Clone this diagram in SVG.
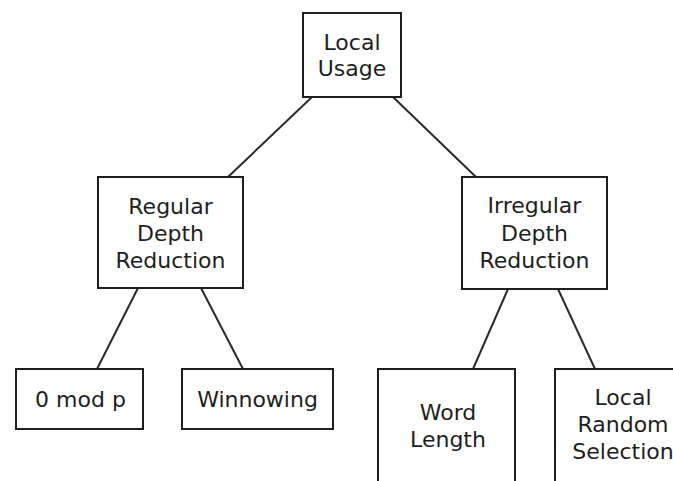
<svg xmlns="http://www.w3.org/2000/svg" width="673" height="481" viewBox="0 0 673 481">
  <style>
    .box { fill: #ffffff; stroke: #1e1e1e; stroke-width: 2; }
    .edge { stroke: #2a2a2a; stroke-width: 2; fill: none; }
    .label { font-family: "DejaVu Sans", Verdana, sans-serif; font-size: 22px; fill: #1e1e1e; text-anchor: middle; }
  </style>
  <rect width="673" height="481" fill="#ffffff"/>

  <!-- tree edges -->
  <g id="connectors">
    <line class="edge" x1="312" y1="97" x2="228" y2="177"/>
    <line class="edge" x1="393" y1="97" x2="476" y2="177"/>
    <line class="edge" x1="138" y1="288" x2="97" y2="369"/>
    <line class="edge" x1="201" y1="288" x2="243" y2="369"/>
    <line class="edge" x1="508" y1="289" x2="473" y2="369"/>
    <line class="edge" x1="558" y1="289" x2="595" y2="369"/>
  </g>

  <g id="local-usage">
    <rect class="box" x="303" y="13" width="98" height="84"/>
    <text class="label" x="352" y="50">Local</text>
    <text class="label" x="352" y="76">Usage</text>
  </g>

  <g id="regular-depth-reduction">
    <rect class="box" x="98" y="177" width="145" height="111"/>
    <text class="label" x="170.5" y="214">Regular</text>
    <text class="label" x="170.5" y="241">Depth</text>
    <text class="label" x="170.5" y="268">Reduction</text>
  </g>

  <g id="irregular-depth-reduction">
    <rect class="box" x="462" y="177" width="145" height="112"/>
    <text class="label" x="534.5" y="213">Irregular</text>
    <text class="label" x="534.5" y="241">Depth</text>
    <text class="label" x="534.5" y="268">Reduction</text>
  </g>

  <g id="zero-mod-p">
    <rect class="box" x="16" y="369" width="127" height="60"/>
    <text class="label" x="80.5" y="407">0 mod p</text>
  </g>

  <g id="winnowing">
    <rect class="box" x="182" y="369" width="151" height="60"/>
    <text class="label" x="257.5" y="407">Winnowing</text>
  </g>

  <g id="word-length">
    <rect class="box" x="378" y="369" width="137" height="125"/>
    <text class="label" x="448" y="420">Word</text>
    <text class="label" x="448" y="447">Length</text>
  </g>

  <g id="local-random-selection">
    <rect class="box" x="555" y="369" width="137" height="125"/>
    <text class="label" x="623" y="405">Local</text>
    <text class="label" x="623" y="432">Random</text>
    <text class="label" x="623" y="459">Selection</text>
  </g>
</svg>
